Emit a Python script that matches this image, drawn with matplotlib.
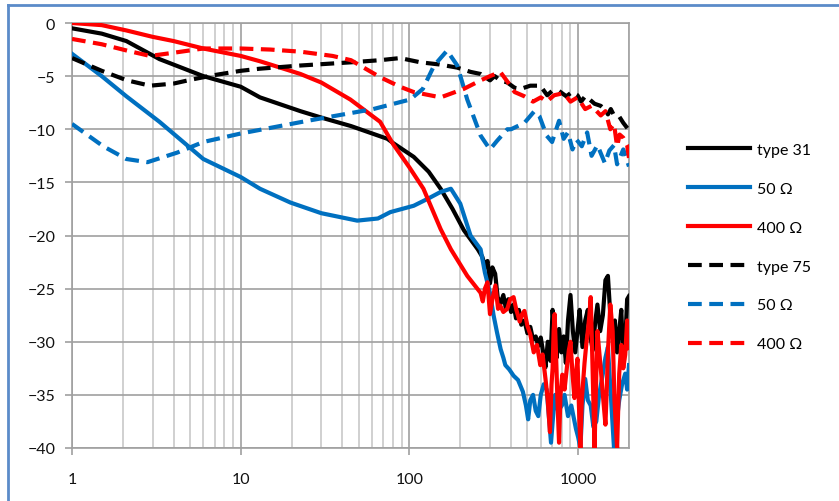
import matplotlib
matplotlib.use("Agg")
import matplotlib.pyplot as plt
from matplotlib.lines import Line2D
from matplotlib.ticker import LogLocator, FixedLocator, NullFormatter

BLACK = "#000000"
BLUE = "#0070C0"
RED = "#FF0000"
BORDER = "#5B8BC9"
GRID_MAJ = "#A0A0A0"
GRID_MIN = "#C4C4C4"
FONT = ["Lato", "DejaVu Sans"]

# type 31, 50 ohm / 400 ohm (solid) and type 75 (dashed)
f_t31 = [1, 1.5, 2.1, 3.3, 6, 10, 13, 22.6, 30, 45, 74, 80, 106, 130, 153, 180, 210,
         254, 270, 282, 290, 300, 310, 322, 333, 347, 360, 372, 385, 400, 414, 428,
         445, 460, 480, 500, 520, 540, 560, 580, 600, 620, 640, 660, 685, 705, 725,
         745, 770, 795, 820, 845, 870, 900, 930, 960, 990, 1020, 1060, 1100, 1140,
         1180, 1220, 1260, 1300, 1350, 1400, 1450, 1500, 1550, 1600, 1650, 1700,
         1750, 1800, 1850, 1900, 1950, 2000]
db_t31 = [-0.5, -1.0, -1.7, -3.4, -5.0, -6.0, -7.0, -8.3, -8.9, -9.7, -10.9, -11.3,
          -12.6, -14.0, -15.6, -17.5, -19.5, -21.3, -22.0, -23.0, -22.4, -24.5, -23.0,
          -23.6, -25.8, -26.4, -25.6, -26.8, -26.0, -27.2, -26.5, -27.8, -27.0, -28.4,
          -28.0, -29.2, -28.6, -29.8, -29.5, -30.4, -29.6, -31.0, -32.4, -30.0, -31.8,
          -27.0, -29.5, -31.5, -28.8, -31.0, -29.5, -32.0, -28.0, -25.6, -29.0, -31.0,
          -29.0, -27.0, -30.5, -28.0, -27.0, -29.5, -30.8, -28.2, -26.5, -29.0, -27.5,
          -24.2, -23.8, -27.5, -29.5, -28.0, -31.0, -29.0, -27.0, -31.5, -30.0, -26.0,
          -25.7]

f_t31_50 = [1, 1.5, 2.1, 3.3, 6, 10, 13, 19.7, 30, 49, 65, 77, 106, 130, 153, 176,
            200, 230, 264, 280, 300, 315, 330, 347, 360, 370, 390, 414, 440, 470, 490,
            505, 520, 540, 560, 580, 600, 625, 650, 670, 690, 710, 730, 760, 800, 830,
            870, 910, 970, 1000, 1030, 1060, 1100, 1140, 1186, 1230, 1280, 1330, 1400,
            1450, 1500, 1560, 1630, 1690, 1750, 1820, 1900, 1950, 2000]
db_t31_50 = [-2.9, -5.0, -6.9, -9.3, -12.8, -14.5, -15.6, -16.9, -17.9, -18.6, -18.4,
             -17.8, -17.2, -16.5, -15.9, -15.6, -17.0, -20.0, -21.3, -23.5, -25.4,
             -27.5, -29.1, -30.7, -31.5, -32.2, -32.6, -33.2, -33.6, -34.7, -36.0,
             -37.3, -35.5, -35.0, -36.5, -37.0, -35.0, -34.0, -34.5, -37.0, -39.5,
             -37.0, -35.0, -36.5, -36.0, -35.0, -37.0, -36.0, -38.2, -39.0, -40.0,
             -36.0, -33.5, -35.5, -36.0, -38.0, -37.5, -35.0, -33.0, -31.5, -30.5,
             -35.0, -40.0, -37.5, -35.5, -34.0, -33.0, -34.5, -32.2]

f_t31_400 = [1, 1.5, 2.1, 3, 4, 6, 10, 13, 22.6, 30, 44.6, 67, 80, 100, 121, 153, 176,
             220, 264, 272, 280, 290, 300, 310, 323, 335, 345, 360, 380, 395, 414, 430,
             450, 465, 480, 500, 520, 545, 570, 596, 615, 640, 660, 680, 695, 705, 715,
             725, 740, 755, 770, 785, 805, 830, 860, 880, 900, 925, 950, 970, 990, 1010,
             1030, 1050, 1090, 1120, 1140, 1165, 1186, 1210, 1250, 1280, 1300, 1330,
             1360, 1400, 1450, 1480, 1500, 1550, 1600, 1640, 1700, 1750, 1800, 1850,
             1900, 1950, 2000]
db_t31_400 = [0.0, -0.2, -0.7, -1.3, -1.7, -2.4, -3.1, -3.6, -4.8, -5.6, -7.2, -9.3,
              -11.4, -13.6, -15.6, -19.4, -21.3, -23.8, -25.4, -26.2, -25.0, -24.4,
              -27.4, -26.0, -24.7, -26.9, -26.6, -27.2, -26.9, -26.0, -25.8, -27.0,
              -28.1, -27.4, -27.1, -28.5, -29.3, -31.0, -30.3, -32.2, -31.2, -33.5,
              -35.5, -38.5, -34.0, -32.5, -29.0, -27.4, -31.5, -36.0, -39.5, -35.0,
              -33.1, -34.5, -32.2, -30.8, -30.0, -33.0, -35.3, -33.0, -31.6, -36.0,
              -40.0, -35.5, -32.0, -30.0, -29.0, -27.5, -25.8, -31.0, -40.0, -33.0,
              -29.0, -30.8, -32.5, -35.0, -37.8, -34.0, -31.0, -26.5, -29.0, -35.5,
              -40.0, -33.0, -30.3, -32.5, -31.2, -28.0, -30.6]

f_t75 = [1, 1.5, 2.12, 2.9, 4, 5.2, 7, 10, 13, 22.6, 45, 67, 88, 116, 150, 192, 230,
         264, 300, 320, 345, 380, 420, 457, 520, 596, 655, 700, 770, 850, 920, 990,
         1040, 1100, 1150, 1250, 1360, 1450, 1500, 1560, 1630, 1750, 1850, 2000]
db_t75 = [-3.3, -4.5, -5.4, -5.9, -5.7, -5.3, -4.9, -4.5, -4.3, -4.0, -3.7, -3.5, -3.3,
          -3.7, -3.9, -4.2, -4.6, -4.8, -5.4, -5.0, -5.4, -5.6, -6.1, -6.2, -5.9, -5.9,
          -6.8, -6.4, -6.4, -6.9, -6.5, -6.8, -7.4, -6.9, -7.1, -7.6, -7.8, -8.2, -8.6,
          -8.1, -8.7, -8.8, -9.4, -10.1]

f_t75_50 = [1, 1.53, 2.1, 2.8, 4.2, 6, 10, 25, 61, 101, 120, 140, 167, 192, 220, 264,
            300, 330, 380, 400, 480, 550, 590, 650, 700, 770, 820, 870, 925, 980, 1050,
            1130, 1200, 1300, 1440, 1530, 1630, 1700, 1850, 2000]
db_t75_50 = [-9.5, -11.6, -12.8, -13.1, -12.2, -11.2, -10.4, -9.2, -8.1, -7.2, -6.2,
             -4.0, -2.6, -4.0, -7.2, -10.6, -11.9, -11.1, -10.0, -10.0, -9.4, -8.3, -8.8,
             -10.6, -11.2, -9.2, -10.9, -10.3, -11.9, -11.0, -11.6, -10.3, -12.5, -11.5,
             -13.2, -12.0, -11.5, -13.3, -11.9, -13.5]

f_t75_400 = [1, 1.5, 2.12, 2.9, 4, 6, 10, 15, 22.6, 35, 45, 67, 88, 106, 153, 210, 264,
             300, 345, 380, 420, 480, 540, 600, 650, 720, 820, 900, 990, 1100, 1200,
             1360, 1450, 1550, 1630, 1700, 1760, 1850, 1950, 2000]
db_t75_400 = [-1.5, -2.0, -2.6, -3.1, -2.8, -2.4, -2.4, -2.5, -2.7, -3.1, -3.5, -5.1,
              -6.0, -6.5, -7.0, -6.2, -5.4, -5.0, -4.6, -5.5, -6.5, -6.9, -7.4, -7.0,
              -7.4, -6.8, -6.6, -7.4, -7.0, -8.1, -7.8, -8.7, -8.3, -10.0, -9.5, -11.6,
              -10.5, -10.8, -11.5, -12.7]

labels = ["type 31", "50 Ω", "400 Ω", "type 75", "50 Ω", "400 Ω"]

DASH = (0, (3.3, 1.8))
LW = 3.0

fig = plt.figure(figsize=(8.39, 5.02), dpi=100)
ax = fig.add_axes([72 / 839, 1 - 449 / 502, (629 - 72) / 839, (449 - 24) / 502])

series = [
    (f_t31, db_t31, BLACK, "-"),
    (f_t31_50, db_t31_50, BLUE, "-"),
    (f_t31_400, db_t31_400, RED, "-"),
    (f_t75, db_t75, BLACK, DASH),
    (f_t75_50, db_t75_50, BLUE, DASH),
    (f_t75_400, db_t75_400, RED, DASH),
]
for (fx, dbv, c, ls), lab in zip(series, labels):
    ax.plot(fx, dbv, color=c, linestyle=ls, linewidth=LW, label=lab,
            solid_joinstyle="round", dash_capstyle="butt", zorder=3)

ax.set_xscale("log")
ax.set_xlim(1, 2000)
ax.set_ylim(-40, 0)
ax.set_yticks(range(-40, 1, 5))
ax.xaxis.set_major_locator(FixedLocator([1, 10, 100, 1000]))
ax.xaxis.set_minor_locator(LogLocator(base=10, subs=range(2, 10), numticks=20))
ax.xaxis.set_minor_formatter(NullFormatter())
ax.set_xticklabels(["1", "10", "100", "1000"])

ax.grid(True, which="major", color=GRID_MAJ, linewidth=1.2, zorder=0)
ax.grid(True, which="minor", axis="x", color=GRID_MIN, linewidth=1.1, zorder=0)
ax.set_axisbelow(True)
for s in ax.spines.values():
    s.set_color(GRID_MAJ)
    s.set_linewidth(1.2)

ax.tick_params(axis="both", which="major", direction="out", length=5,
               color=GRID_MAJ, width=1.2, labelsize=11.5, labelcolor="#111111")
ax.tick_params(axis="x", which="minor", length=0)
ax.tick_params(axis="y", pad=7)
ax.tick_params(axis="x", pad=12)
for t in ax.get_xticklabels() + ax.get_yticklabels():
    t.set_fontfamily(FONT)

leg = fig.legend(loc="center left", bbox_to_anchor=(688 / 839, 1 - 248 / 502),
                 frameon=False, handlelength=3.9, handletextpad=0.45,
                 labelspacing=1.55, borderpad=0, borderaxespad=0,
                 prop={"family": FONT, "size": 11.5})

# outer frame (top and left edges visible)
fig.add_artist(Line2D([8 / 839, 1], [1 - 5.5 / 502, 1 - 5.5 / 502],
                      transform=fig.transFigure, color=BORDER, linewidth=2))
fig.add_artist(Line2D([8 / 839, 8 / 839], [0, 1 - 5.5 / 502],
                      transform=fig.transFigure, color=BORDER, linewidth=2))

fig.savefig("out.png", dpi=100, facecolor="white")
